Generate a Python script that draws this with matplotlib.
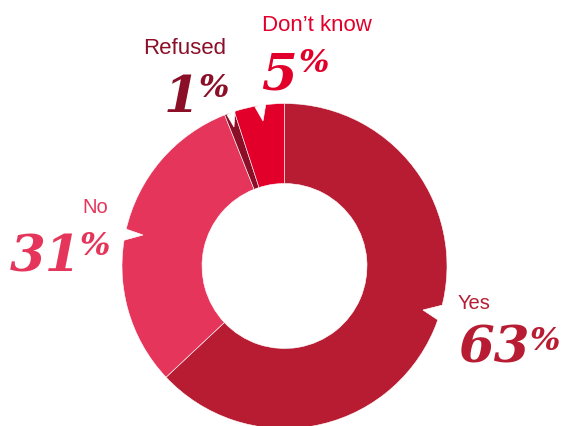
import matplotlib
matplotlib.use("Agg")
import matplotlib.pyplot as plt
from matplotlib.patches import Polygon

# Survey answers, clockwise from 12 o'clock
categories = ["Yes", "No", "Refused", "Don\u2019t know"]
shares = [63, 31, 1, 5]
colors = ["#B81C32", "#E5355B", "#8A0F27", "#E2002B"]

W, H = 566, 427
fig = plt.figure(figsize=(W / 100, H / 100), dpi=100)
ax = fig.add_axes([0, 0, 1, 1])

cx, cy = 284.5, H - 267.0
r_out, r_in = 162.5, 82.5

ax.pie(shares, colors=colors, startangle=90, counterclock=False,
       center=(cx, cy), radius=r_out,
       wedgeprops=dict(width=r_out - r_in, edgecolor="white", linewidth=0.4))


def px(x, y):
    return (x, H - y)


# white callout pointers cut into the ring
notches = [
    [(423, 311), (447, 305), (441, 323)],
    [(143, 236), (123, 229), (121, 242)],
    [(263, 122), (255, 108), (266, 104)],
    [(234, 128), (227, 116), (235, 111)],
]
for tri in notches:
    ax.add_patch(Polygon([px(*p) for p in tri], closed=True,
                         facecolor="white", edgecolor="white", lw=0.5, zorder=5))

label_font = ["Liberation Sans", "DejaVu Sans"]
num_font = ["DejaVu Serif"]

# (label x, label baseline, label size, number x, number baseline,
#  percent x, percent baseline)
layout = {
    "Yes": (458, 309, 14.5, 459, 363, 530, 350),
    "No": (82, 213, 14.5, 10, 272, 80, 255),
    "Refused": (143, 54, 16, 164, 112, 199, 97),
    "Don\u2019t know": (262, 31, 16, 261, 90, 299, 72),
}

for cat, val, col in zip(categories, shares, colors):
    lx, ly, ls, nx, ny, pxx, pyy = layout[cat]
    ax.text(*px(lx, ly), cat, color=col, fontsize=ls, family=label_font,
            ha="left", va="baseline")
    ax.text(*px(nx, ny), f"{val}", color=col, fontsize=37, family=num_font,
            fontweight="bold", fontstyle="italic", ha="left", va="baseline")
    ax.text(*px(pxx, pyy), "%", color=col, fontsize=23, family=num_font,
            fontweight="bold", fontstyle="italic", ha="left", va="baseline")

ax.set_xlim(0, W)
ax.set_ylim(0, H)
ax.set_aspect("equal")
ax.axis("off")
fig.savefig("out.png", dpi=100)
